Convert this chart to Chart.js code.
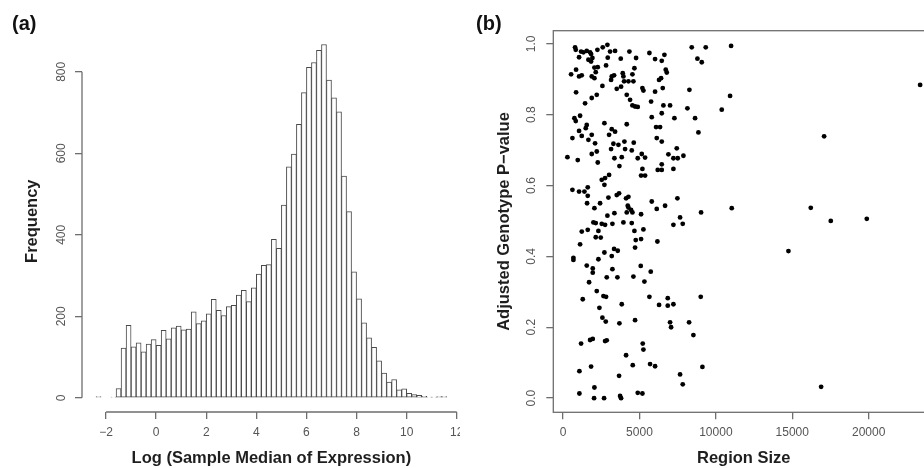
<!DOCTYPE html>
<html>
<head>
<meta charset="utf-8">
<script src="https://cdn.jsdelivr.net/npm/chart.js@4.4.1/dist/chart.umd.min.js"></script>
<style>
  html, body { margin: 0; padding: 0; width: 924px; height: 468px; overflow: hidden; background: #fff; }
  canvas { position: absolute; top: 0; }
  #hist { left: 0; }
  #scatter { left: 460px; background: #fff; }
  .tag { position: absolute; top: 13px; font: bold 20px "Liberation Sans", Arial, sans-serif; line-height: 20px; color: #111; }
</style>
</head>
<body>
<canvas id="hist" width="470" height="468"></canvas>
<canvas id="scatter" width="500" height="468"></canvas>
<div class="tag" style="left:12px">(a)</div>
<div class="tag" style="left:476px">(b)</div>
<script>
// (a) histogram: bin centres (width 0.2) and counts
const binCenters = [-2.3, -2.1, -1.9, -1.7, -1.5, -1.3, -1.1, -0.9, -0.7, -0.5, -0.3, -0.1,
  0.1, 0.3, 0.5, 0.7, 0.9, 1.1, 1.3, 1.5, 1.7, 1.9, 2.1, 2.3, 2.5, 2.7, 2.9, 3.1, 3.3, 3.5,
  3.7, 3.9, 4.1, 4.3, 4.5, 4.7, 4.9, 5.1, 5.3, 5.5, 5.7, 5.9, 6.1, 6.3, 6.5, 6.7, 6.9, 7.1,
  7.3, 7.5, 7.7, 7.9, 8.1, 8.3, 8.5, 8.7, 8.9, 9.1, 9.3, 9.5, 9.7, 9.9, 10.1, 10.3, 10.5,
  10.7, 10.9, 11.1, 11.3, 11.5];
const frequency = [3, 0, 0, 2, 23, 122, 178, 125, 135, 113, 132, 143, 129, 166, 145, 172,
  176, 167, 169, 211, 182, 189, 206, 242, 215, 202, 224, 227, 252, 264, 236, 270, 304, 325,
  327, 389, 367, 473, 567, 598, 671, 749, 811, 823, 853, 867, 780, 736, 702, 544, 457, 309,
  243, 184, 147, 124, 91, 61, 39, 45, 20, 22, 11, 8, 6, 4, 2, 2, 3, 3];
const histXTicks = [-2, 0, 2, 4, 6, 8, 10, 12];
const histYTicks = [0, 200, 400, 600, 800];

// (b) scatter: region size vs adjusted p-value
const regionSize = [785, 829, 1178, 1047, 1331, 1549, 1767, 1833, 1658, 1833, 1920, 2247,
  2596, 2901, 3076, 3403, 2924, 3774, 4341, 4778, 5650, 6021, 6458, 6632, 8421, 9338, 10996,
  8792, 9076, 524, 851, 1047, 1222, 2051, 2269, 2814, 2138, 1876, 2051, 3185, 3338, 3142,
  3905, 3949, 4669, 4538, 6720, 6785, 6414, 6283, 2574, 3513, 3796, 3992, 4276, 4603, 5192,
  5258, 6021, 6523, 8269, 10930, 851, 1440, 1876, 2204, 4167, 4385, 4538, 4712, 4887, 5760,
  6567, 7003, 8138, 10385, 742, 829, 1113, 1549, 1484, 2705, 3185, 4167, 5803, 6458, 7287,
  8639, 6087, 6349,
  3403, 8858, 1047, 611, 1222, 1658, 1876, 2094, 3011, 6130, 6458, 284, 960, 1876, 2204,
  2269, 3142, 3294, 3622, 4014, 4058, 4625, 4494, 3360, 3840, 3687, 4887, 5149, 5367, 5192,
  5105, 5367, 6196, 6458, 6458, 7221, 6894, 7221, 7440, 7505, 7876, 3011, 2749, 2531, 2705,
  611, 1047, 1396, 1615, 1615, 1571, 2051, 2422, 2967, 3513, 3665, 4123, 4276, 4232, 4276,
  4451, 4167, 4538, 2901, 3360, 5105, 5803, 6130, 6676, 7483, 7658, 9032, 11039,
  7221, 7832, 1985, 2138, 2531, 2749, 3229, 3949, 4494, 1222, 1615, 2312, 2138, 2465, 4669,
  5258, 4756, 5105, 6174, 1113, 4712, 676, 676, 2312, 2705, 3185, 3338, 3578, 1549, 1942,
  1942, 3229, 5083, 5738, 2858, 3556, 4603, 1702, 5323, 2204, 2640, 2814, 1287, 2378, 3840,
  5650, 6283, 6851, 6851, 7221, 9010,
  2574, 2793, 3687, 4712, 7003, 7069, 8247, 8530, 1178, 1767, 1942, 2749, 2858, 5214, 5258,
  4123, 4560, 5694, 6021, 1833, 1069, 3665, 7658, 7832, 9119, 2051, 1069, 2029, 2683, 3731,
  3796, 4887, 5192,
  17085, 16212, 17521, 19878, 23369, 14750, 16889];
const pValue = [0.990, 0.983, 0.978, 0.962, 0.976, 0.980, 0.976, 0.971, 0.955, 0.950, 0.960,
  0.983, 0.990, 0.997, 0.978, 0.980, 0.961, 0.958, 0.978, 0.960, 0.974, 0.957, 0.952, 0.969,
  0.990, 0.990, 0.994, 0.958, 0.948, 0.914, 0.927, 0.908, 0.911, 0.933, 0.934, 0.939, 0.920,
  0.908, 0.903, 0.908, 0.911, 0.898, 0.917, 0.908, 0.931, 0.914, 0.927, 0.919, 0.903, 0.898,
  0.881, 0.873, 0.879, 0.894, 0.894, 0.894, 0.875, 0.868, 0.865, 0.875, 0.870, 0.853, 0.863,
  0.832, 0.847, 0.856, 0.856, 0.842, 0.826, 0.823, 0.822, 0.837, 0.826, 0.826, 0.818, 0.814,
  0.790, 0.782, 0.797, 0.771, 0.762, 0.776, 0.759, 0.773, 0.793, 0.804, 0.790, 0.790, 0.765,
  0.765,
  0.752, 0.750, 0.754, 0.734, 0.740, 0.729, 0.743, 0.719, 0.743, 0.734, 0.724, 0.680, 0.672,
  0.689, 0.696, 0.665, 0.703, 0.718, 0.715, 0.724, 0.703, 0.721, 0.699, 0.677, 0.680, 0.655,
  0.677, 0.689, 0.679, 0.647, 0.628, 0.628, 0.644, 0.644, 0.660, 0.647, 0.688, 0.677, 0.705,
  0.677, 0.684, 0.630, 0.621, 0.616, 0.602, 0.588, 0.583, 0.583, 0.595, 0.571, 0.550, 0.536,
  0.550, 0.566, 0.573, 0.578, 0.564, 0.568, 0.543, 0.538, 0.531, 0.524, 0.524, 0.515, 0.522,
  0.519, 0.555, 0.534, 0.543, 0.564, 0.510, 0.524, 0.536,
  0.489, 0.492, 0.496, 0.494, 0.492, 0.489, 0.492, 0.496, 0.494, 0.470, 0.475, 0.472, 0.454,
  0.453, 0.472, 0.476, 0.446, 0.449, 0.442, 0.434, 0.425, 0.396, 0.390, 0.392, 0.411, 0.401,
  0.421, 0.416, 0.374, 0.366, 0.354, 0.364, 0.373, 0.357, 0.341, 0.341, 0.343, 0.327, 0.329,
  0.302, 0.288, 0.286, 0.279, 0.255, 0.265, 0.286, 0.263, 0.282, 0.261, 0.265, 0.286,
  0.227, 0.216, 0.211, 0.220, 0.214, 0.200, 0.214, 0.178, 0.154, 0.164, 0.167, 0.161, 0.163,
  0.154, 0.137, 0.121, 0.093, 0.096, 0.090, 0.089, 0.076, 0.063, 0.067, 0.039, 0.088, 0.030,
  0.013, 0.000, 0.000, 0.006, 0.000, 0.015, 0.013,
  0.739, 0.537, 0.500, 0.506, 0.884, 0.415, 0.032];
const scatterXTicks = [0, 5000, 10000, 15000, 20000];
const scatterYTicks = [0, 0.2, 0.4, 0.6, 0.8, 1.0];

const family = "'Liberation Sans', Arial, Helvetica, sans-serif";
const axisGrey = '#6e6e6e';
const labelGrey = '#555';
const titleBlack = '#1e1e1e';
Chart.defaults.font.family = family;

function setTicks(values) {
  return scale => { scale.ticks = values.map(v => ({ value: v })); };
}

const tickGrid = {
  drawOnChartArea: false, drawTicks: true, tickLength: 7,
  tickColor: axisGrey, lineWidth: 1.3, offset: false
};

// R style axes: the line only runs from the first tick to the last one
const rAxes = {
  id: 'rAxes',
  afterDraw(chart) {
    const { ctx, chartArea, scales: { x, y } } = chart;
    const xt = x.ticks, yt = y.ticks;
    ctx.save();
    ctx.strokeStyle = axisGrey;
    ctx.lineWidth = 1.3;
    ctx.beginPath();
    ctx.moveTo(x.getPixelForValue(xt[0].value), chartArea.bottom);
    ctx.lineTo(x.getPixelForValue(xt[xt.length - 1].value), chartArea.bottom);
    ctx.moveTo(chartArea.left, y.getPixelForValue(yt[0].value));
    ctx.lineTo(chartArea.left, y.getPixelForValue(yt[yt.length - 1].value));
    ctx.stroke();
    ctx.restore();
  }
};

// full box round the plot region
const boxFrame = {
  id: 'boxFrame',
  afterDraw(chart) {
    const { ctx, chartArea: a } = chart;
    ctx.save();
    ctx.strokeStyle = axisGrey;
    ctx.lineWidth = 1.3;
    ctx.strokeRect(a.left, a.top, a.right - a.left, a.bottom - a.top);
    ctx.restore();
  }
};

new Chart(document.getElementById('hist'), {
  type: 'bar',
  data: {
    datasets: [{
      data: binCenters.map((c, i) => ({ x: c, y: frequency[i] })),
      backgroundColor: '#fff',
      borderColor: '#4a4a4a',
      borderWidth: 1,
      borderSkipped: false,
      barPercentage: 1,
      categoryPercentage: 1
    }]
  },
  options: {
    responsive: false,
    animation: false,
    events: [],
    layout: { padding: { top: 30.4, right: 7.6, left: 0, bottom: 0 } },
    plugins: { legend: { display: false }, tooltip: { enabled: false } },
    scales: {
      x: {
        type: 'linear', min: -2.96, max: 12.16, offset: false,
        afterBuildTicks: setTicks(histXTicks),
        afterFit: s => { s.height = 56; },
        border: { display: false },
        grid: tickGrid,
        ticks: {
          color: labelGrey, font: { size: 12 }, padding: 6.5, maxRotation: 0, autoSkip: false,
          callback: v => String(v).replace('-', '\u2212')
        },
        title: {
          display: true, text: 'Log (Sample Median of Expression)', color: titleBlack,
          font: { size: 16.5, weight: 'bold' }, padding: 0
        }
      },
      y: {
        min: -34.7, max: 901.7,
        afterBuildTicks: setTicks(histYTicks),
        afterFit: s => { s.width = 82; },
        border: { display: false },
        grid: tickGrid,
        ticks: {
          color: labelGrey, font: { size: 12 }, padding: 3, autoSkip: false,
          minRotation: 90, maxRotation: 90, crossAlign: 'center'
        },
        title: {
          display: true, text: 'Frequency', color: titleBlack,
          font: { size: 16.5, weight: 'bold' }, padding: { top: 23, bottom: 0 }
        }
      }
    }
  },
  plugins: [rAxes]
});

new Chart(document.getElementById('scatter'), {
  type: 'scatter',
  data: {
    datasets: [{
      data: regionSize.map((s, i) => ({ x: s, y: pValue[i] })),
      pointRadius: 2.4,
      pointBackgroundColor: '#000',
      pointBorderWidth: 0
    }]
  },
  options: {
    responsive: false,
    animation: false,
    events: [],
    layout: { padding: { top: 30.7, right: 25.8, left: 0, bottom: 0 } },
    plugins: { legend: { display: false }, tooltip: { enabled: false } },
    scales: {
      x: {
        type: 'linear', min: -640, max: 24290,
        afterBuildTicks: setTicks(scatterXTicks),
        afterFit: s => { s.height = 55.7; },
        border: { display: false },
        grid: tickGrid,
        ticks: {
          color: labelGrey, font: { size: 12 }, padding: 6.5, maxRotation: 0, autoSkip: false,
          callback: v => String(v)
        },
        title: {
          display: true, text: 'Region Size', color: titleBlack,
          font: { size: 16.5, weight: 'bold' }, padding: 0
        }
      },
      y: {
        type: 'linear', min: -0.04, max: 1.037,
        afterBuildTicks: setTicks(scatterYTicks),
        afterFit: s => { s.width = 93.3; },
        border: { display: false },
        grid: tickGrid,
        ticks: {
          color: labelGrey, font: { size: 12 }, padding: 6, autoSkip: false,
          minRotation: 90, maxRotation: 90, crossAlign: 'center',
          callback: v => v.toFixed(1)
        },
        title: {
          display: true, text: 'Adjusted Genotype P\u2212value', color: titleBlack,
          font: { size: 16.5, weight: 'bold' }, padding: { top: 35, bottom: 0 }
        }
      }
    }
  },
  plugins: [boxFrame]
});
</script>
</body>
</html>
